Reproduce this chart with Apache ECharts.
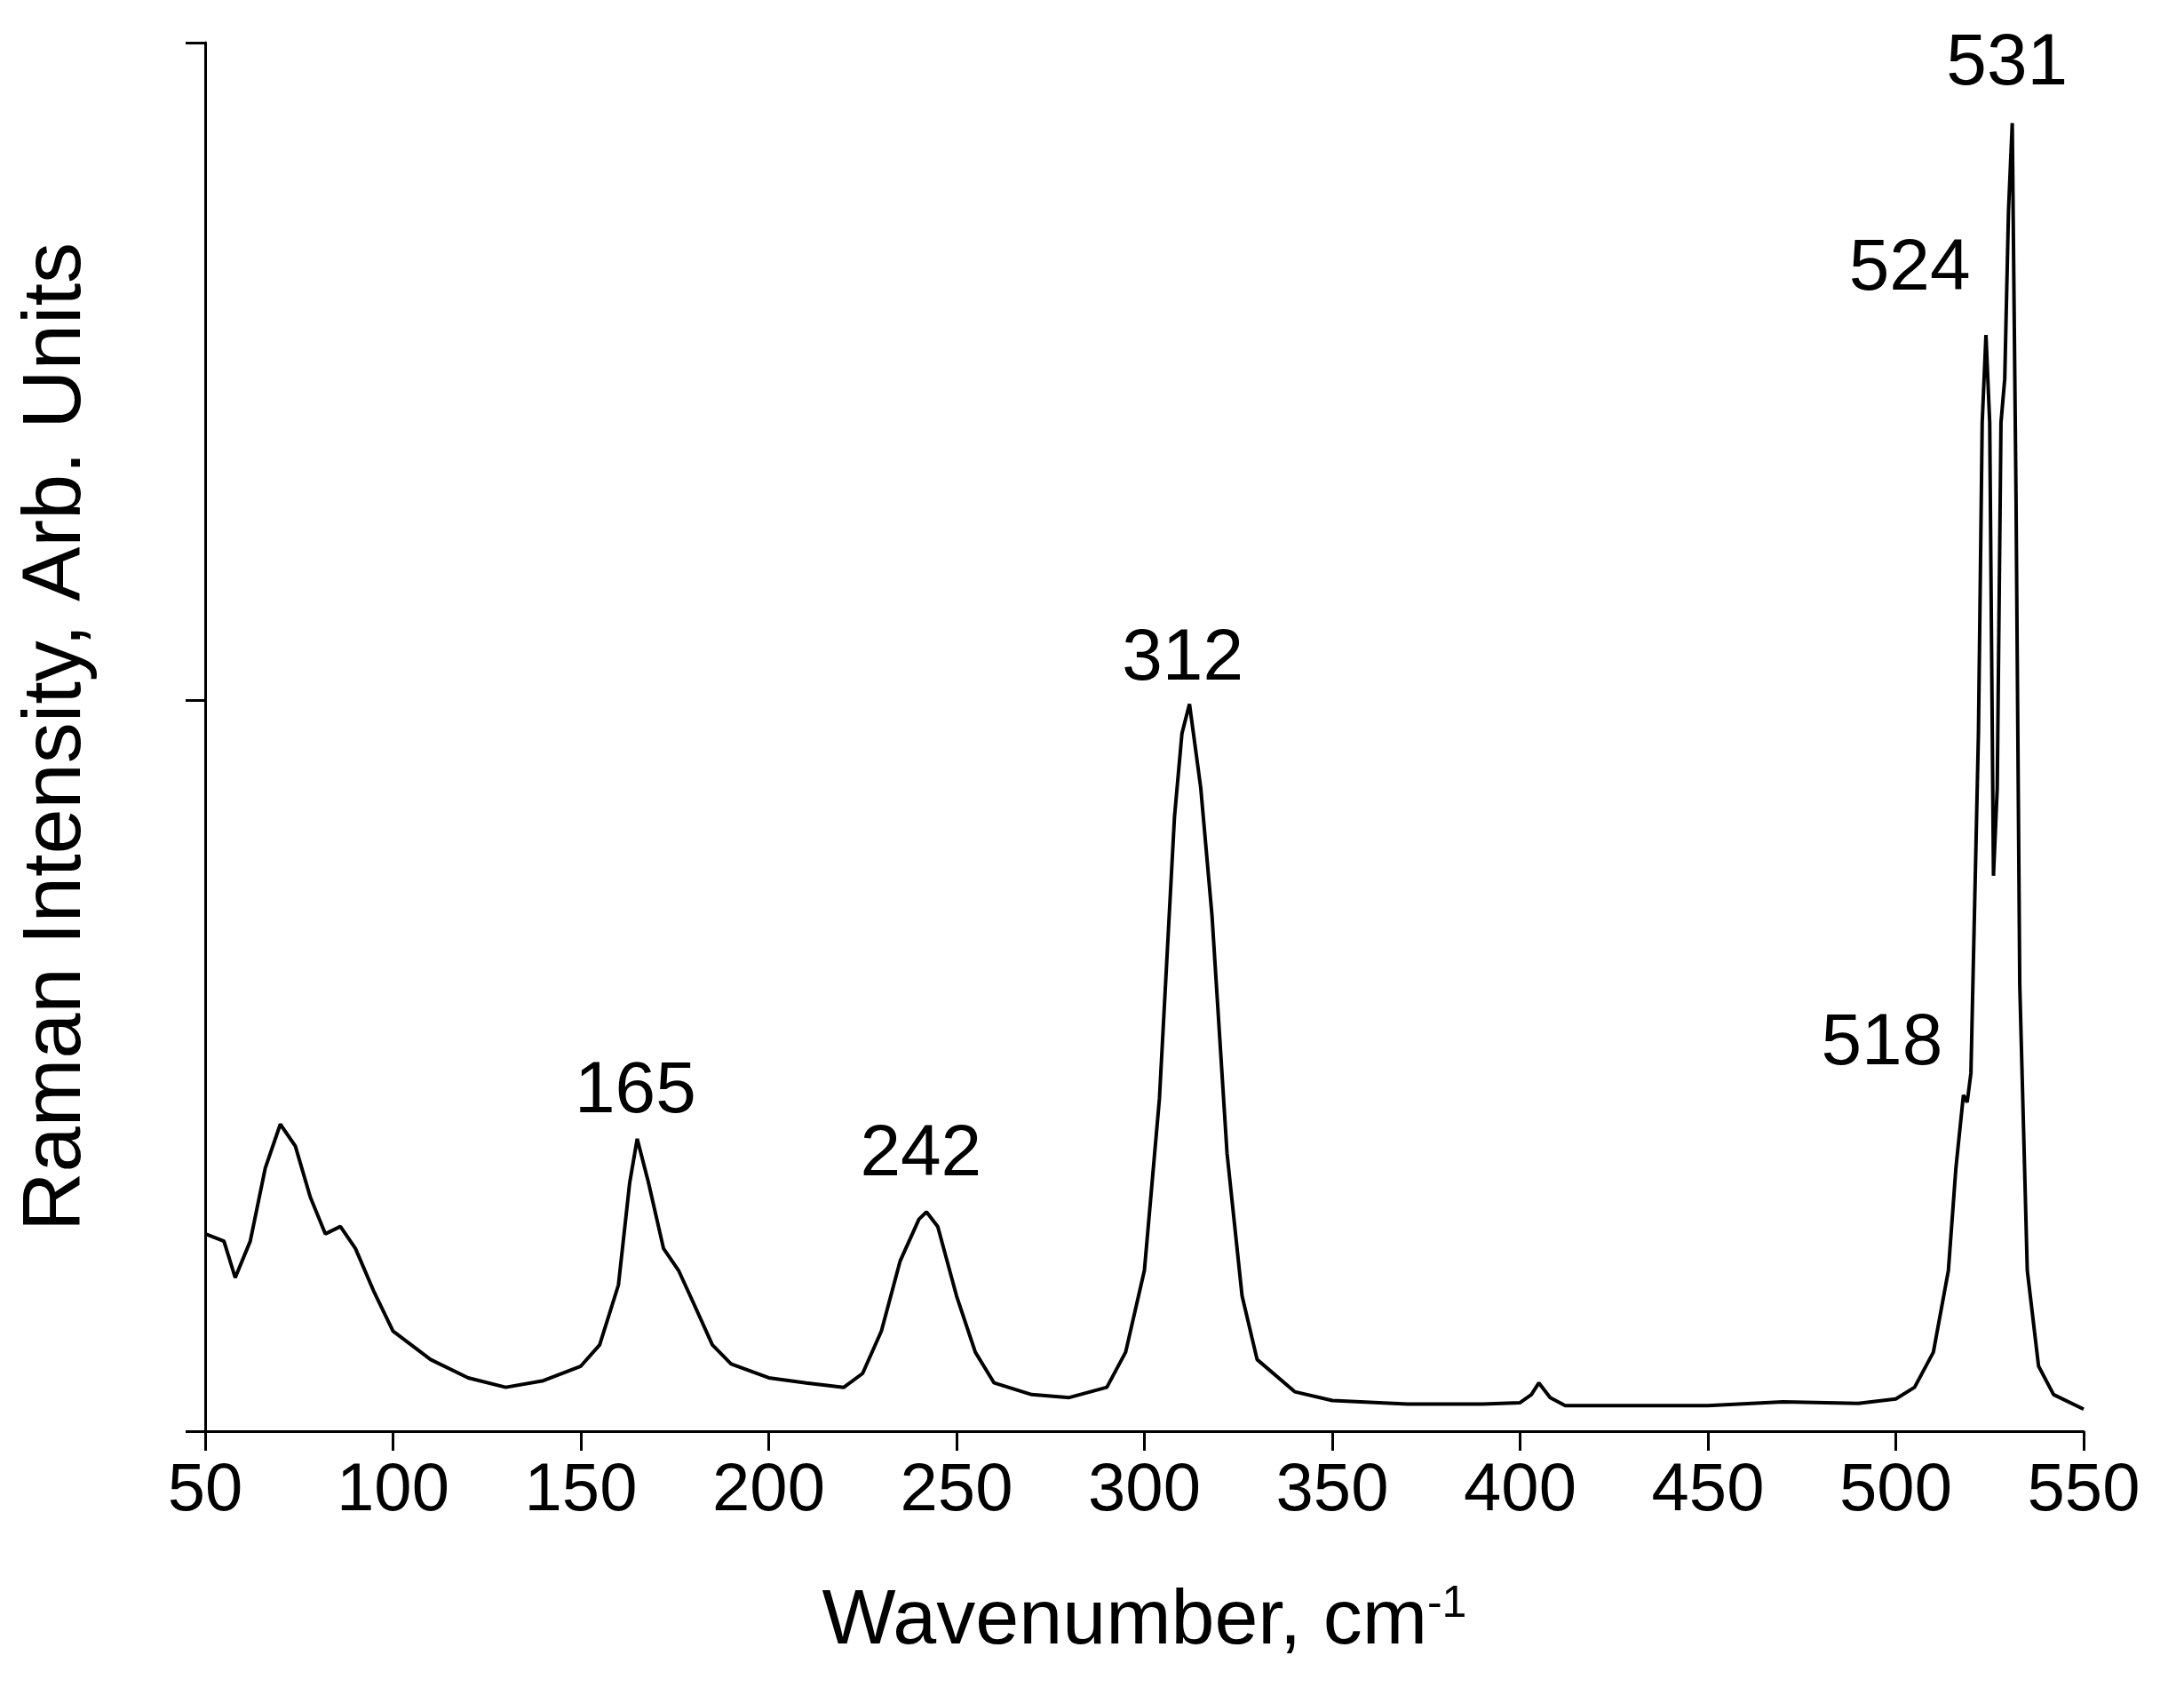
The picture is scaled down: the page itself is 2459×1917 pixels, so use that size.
<!DOCTYPE html>
<html>
<head>
<meta charset="utf-8">
<script src="https://cdn.jsdelivr.net/npm/echarts@6/dist/echarts.min.js"></script>
<style>html,body{margin:0;background:#fff}#chart{width:2459px;height:1917px}</style>
</head>
<body>
<div id="chart"></div>
<script>
// Raman spectrum
const wavenumbers = [50,55,58,62,66,70,74,78,82,86,90,95,100,110,120,130,140,150,155,160,163,165,168,172,176,180,185,190,200,210,220,225,230,235,240,242,245,250,255,260,270,280,290,295,300,304,308,310,312,315,318,322,326,330,340,350,370,390,400,403,405,408,412,450,470,490,500,505,510,514,516,518,519,520,522,523,524,525,526,527,528,529,530,531,532,533,535,538,542,550];
const intensity = [0.27,0.26,0.21,0.26,0.36,0.42,0.39,0.32,0.27,0.28,0.25,0.19,0.137,0.098,0.073,0.06,0.069,0.089,0.118,0.2,0.34,0.4,0.34,0.25,0.22,0.175,0.118,0.092,0.073,0.066,0.06,0.079,0.137,0.233,0.29,0.3,0.28,0.185,0.108,0.066,0.05,0.046,0.06,0.108,0.22,0.455,0.84,0.955,0.995,0.88,0.705,0.38,0.185,0.098,0.054,0.042,0.037,0.037,0.039,0.05,0.066,0.046,0.035,0.035,0.04,0.038,0.044,0.06,0.108,0.22,0.36,0.46,0.45,0.49,0.955,1.38,1.5,1.38,0.76,0.88,1.38,1.44,1.67,1.79,1.28,0.61,0.22,0.089,0.05,0.03];
const peakNames = ['165','242','312','518','524','531'];
const peakLabelPos = [[164.5,0.464],[240.5,0.378],[310.2,1.056],[496.3,0.53],[503.7,1.59],[529.6,1.87]];
const xTicks = [50,550,50];

const chart = echarts.init(document.getElementById('chart'));
const font = 'Liberation Sans, Arial, sans-serif';
chart.setOption({
  animation: false,
  grid: {left: 231, right: 113, top: 48, bottom: 306},
  xAxis: {
    type: 'value', min: xTicks[0], max: xTicks[1], interval: xTicks[2],
    name: 'Wavenumber, cm{sup|-1}', nameLocation: 'middle', nameGap: 170,
    nameTextStyle: {fontSize: 88, color: '#000', fontFamily: font,
      rich: {sup: {fontSize: 50, verticalAlign: 'top', padding: [0, 0, 40, 0], color: '#000', fontFamily: font}}},
    axisLine: {lineStyle: {color: '#000', width: 3}},
    axisTick: {inside: false, length: 22, lineStyle: {color: '#000', width: 3}},
    axisLabel: {fontSize: 76, color: '#000', fontFamily: font, margin: 30},
    splitLine: {show: false}
  },
  yAxis: {
    type: 'value', min: 0, max: 1.9, interval: 1,
    name: 'Raman Intensity, Arb. Units', nameLocation: 'middle', nameGap: 120,
    nameTextStyle: {fontSize: 92, color: '#000', fontFamily: font},
    axisLine: {show: true, lineStyle: {color: '#000', width: 3}},
    axisTick: {show: true, length: 22, lineStyle: {color: '#000', width: 3}},
    axisLabel: {show: false},
    splitLine: {show: false}
  },
  series: [{
    type: 'line',
    data: wavenumbers.map((w, i) => [w, intensity[i]]),
    showSymbol: false,
    lineStyle: {color: '#000', width: 4},
    markPoint: {
      symbol: 'circle', symbolSize: 0,
      label: {show: true, position: 'inside', fontSize: 82, color: '#000', fontFamily: font,
        formatter: p => p.name},
      data: peakNames.map((n, i) => ({name: n, coord: peakLabelPos[i]}))
    }
  }]
});
</script>
</body>
</html>
